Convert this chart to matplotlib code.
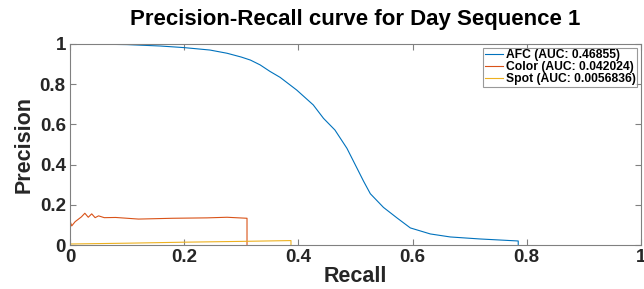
import matplotlib
matplotlib.use("Agg")
import matplotlib.pyplot as plt

plt.rcParams['font.family'] = ['Liberation Sans', 'DejaVu Sans']

afc_recall = [0, 0.05, 0.1, 0.158, 0.2, 0.245, 0.275, 0.3, 0.316, 0.333, 0.35, 0.368,
              0.397, 0.426, 0.444, 0.464, 0.485, 0.503, 0.514, 0.526, 0.549, 0.573,
              0.596, 0.631, 0.666, 0.718, 0.785, 0.785]
afc_precision = [1.0, 0.999, 0.997, 0.99, 0.982, 0.97, 0.954, 0.935, 0.92, 0.896, 0.864,
                 0.834, 0.771, 0.697, 0.630, 0.572, 0.481, 0.38, 0.318, 0.255, 0.187,
                 0.134, 0.085, 0.055, 0.04, 0.03, 0.02, 0.0]

color_recall = [0, 0, 0.003, 0.009, 0.02, 0.026, 0.032, 0.038, 0.044, 0.05, 0.06, 0.08,
                0.12, 0.18, 0.24, 0.275, 0.31, 0.31]
color_precision = [0, 0.12, 0.095, 0.116, 0.14, 0.158, 0.138, 0.155, 0.136, 0.145, 0.136,
                   0.137, 0.129, 0.133, 0.135, 0.138, 0.133, 0]

spot_recall = [0, 0.1, 0.2, 0.3, 0.387, 0.387]
spot_precision = [0.005, 0.009, 0.014, 0.018, 0.022, 0]

labels = ['AFC (AUC: 0.46855)', 'Color (AUC: 0.042024)', 'Spot (AUC: 0.0056836)']
colors = ['#0072BD', '#D95319', '#EDB120']

ticks = [0, 0.2, 0.4, 0.6, 0.8, 1]
tick_labels = ['0', '0.2', '0.4', '0.6', '0.8', '1']

fig = plt.figure(figsize=(6.44, 2.89), dpi=100)
ax = fig.add_axes([70/644, 1-245/289, (641-70)/644, (245-44)/289])

ax.plot(afc_recall, afc_precision, color=colors[0], lw=0.8, label=labels[0])
ax.plot(color_recall, color_precision, color=colors[1], lw=0.8, label=labels[1])
ax.plot(spot_recall, spot_precision, color=colors[2], lw=0.8, label=labels[2])

ax.set_xlim(0, 1)
ax.set_ylim(0, 1)
ax.set_xticks(ticks)
ax.set_xticklabels(tick_labels)
ax.set_yticks(ticks)
ax.set_yticklabels(tick_labels)
ax.tick_params(direction='in', top=True, right=True, length=4, width=0.8,
               color='#808080', labelsize=13.5, pad=3)
for lab in ax.get_xticklabels() + ax.get_yticklabels():
    lab.set_fontweight('bold')
    lab.set_color('#262626')
for s in ax.spines.values():
    s.set_color('#808080')
    s.set_linewidth(0.8)

ax.set_xlabel('Recall', fontsize=15.5, fontweight='bold', color='#262626', labelpad=0)
ax.set_ylabel('Precision', fontsize=15.5, fontweight='bold', color='#262626', labelpad=4)
ax.set_title('Precision-Recall curve for Day Sequence 1', fontsize=16,
             fontweight='bold', pad=14)

leg = ax.legend(loc='upper right', prop={'weight': 'bold', 'size': 8.7},
                frameon=True, fancybox=False, edgecolor='#808080',
                handlelength=1.5, handletextpad=0.2, labelspacing=0.0,
                borderpad=0.15, borderaxespad=0.3)
leg.get_frame().set_linewidth(0.8)

fig.savefig('out.png', dpi=100)
